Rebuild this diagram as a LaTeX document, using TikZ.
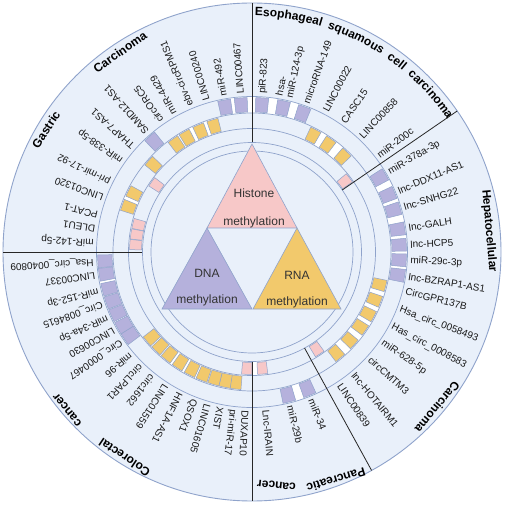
\documentclass[tikz,border=0pt]{standalone}
\usepackage{fontspec}
\setmainfont{Liberation Sans}
\usetikzlibrary{decorations.text}

\definecolor{bgblue}{RGB}{233,240,250}
\definecolor{rimline}{RGB}{143,163,203}
\definecolor{histpink}{RGB}{247,200,200}
\definecolor{rnayellow}{RGB}{242,201,108}
\definecolor{dnapurple}{RGB}{181,177,220}

% annular piece: style, inner r, outer r, from angle, to angle
\newcommand{\ringpiece}[5]{%
  \path[#1] (#4:#2) arc[start angle=#4, end angle=#5, radius=#2]
    -- (#5:#3) arc[start angle=#5, end angle=#4, radius=#3] -- cycle;}

\begin{document}
\begin{tikzpicture}[x=1pt, y=1pt,
  rim/.style={draw=rimline, line width=0.7pt},
  blk/.style={draw=rimline, line width=0.5pt},
  sect/.style={draw=black!85, line width=0.8pt},
  tri/.style={draw=rimline, line width=0.6pt},
  lbl/.style={anchor=west, inner sep=1pt, align=left, text=black!90,
    font=\fontsize{10}{10.5}\selectfont},
  ttl/.style={inner sep=0pt, text=black, font=\bfseries\fontsize{12}{13}\selectfont},
  tritxt/.style={inner sep=0pt, text=black!80, font=\fontsize{12}{13}\selectfont}]

\useasboundingbox (-252,-253) rectangle (253,252);

% background disc
\fill[bgblue] (0,0) circle[radius=249pt];
\draw[rim, line width=0.9pt] (0,0) circle[radius=249pt];

% white slots behind runs of blocks
\foreach \a/\b in {164.1/178.9, -94.9/-82.6}
  {\ringpiece{fill=white}{109.5pt}{123.5pt}{\a}{\b}}
\foreach \a/\b in {151.3/162.4, 104.3/127.4, 44.1/64.8, -52.6/-11.9, -142/-94.6}
  {\ringpiece{fill=white}{123.5pt}{139pt}{\a}{\b}}
\foreach \a/\b in {67.6/102.8, -11.3/32.6, -78.4/-65.6, -178.9/-143.2}
  {\ringpiece{fill=white}{139pt}{155.5pt}{\a}{\b}}

% rings
\foreach \r in {101,109.5,123.5,139,155.5}
  \draw[rim] (0,0) circle[radius=\r pt];

% histone blocks
\foreach \a in {176.5,171.5,166.5,145,37.3,-56.4,-85,-92.5}
  {\ringpiece{blk, fill=histpink}{110.5pt}{122.5pt}{\a-2.4}{\a+2.4}}
% RNA blocks
\foreach \a in {160,153.7,138.5,125,119.5,113,106.7,62.4,54.9,46.5,
    -14.3,-21.2,-28,-34.7,-42.1,-50.2,
    -97,-101.5,-106.3,-111.5,-117,-122.9,-128.8,-134.2,-139.6}
  {\ringpiece{blk, fill=rnayellow}{124.5pt}{138pt}{\a-2.4}{\a+2.4}}
% DNA blocks
\foreach \a in {131.5,100.4,94.2,86.2,78,70,30.2,22.7,16.5,8.8,2.7,-3.1,-8.9,
    -68,-76,-145.6,-150.4,-155.6,-160.7,-165.8,-171.5,-176.5}
  {\ringpiece{blk, fill=dnapurple}{140pt}{154.5pt}{\a-2.4}{\a+2.4}}

% sector borders
\foreach \a in {90,34.5,-61.3,-90,180}
  \draw[sect] (\a:109.5pt) -- (\a:249pt);

% triangles
\draw[tri, fill=histpink] (0,108) -- (45,24) -- (-45,24) -- cycle;
\draw[tri, fill=dnapurple] (-45,24) -- (0,-57) -- (-90,-57) -- cycle;
\draw[tri, fill=rnayellow] (45,24) -- (89,-57) -- (1,-57) -- cycle;
\node[tritxt] (histA) at (2,59) {Histone};
\node[tritxt] (histB) at (2,30) {methylation};
\node[tritxt] (dnaA) at (-45,-21) {DNA};
\node[tritxt] (dnaB) at (-45,-48) {methylation};
\node[tritxt] (rnaA) at (45,-23) {RNA};
\node[tritxt] (rnaB) at (45,-50) {methylation};

% gene labels
\foreach \a/\t [count=\i] in {176.5/miR-142-5p, 171.5/DLEU1, 166.5/PCAT-1,
    160/LINC01320, 153.7/pri-mir-17-92, 145/miR-338-5p, 138.5/THAP7-AS1,
    131.5/SAMD12-AS1, 125/circORC5, 119.5/miR-4429, 113/ebv-circRPMS1,
    106.7/LINC00240, 100.4/miR-492, 94.2/LINC00467,
    86.2/piR-823, 78/{hsa-\\miR-124-3p}, 70/microRNA-149, 62.4/LINC00022,
    54.9/CASC15, 46.5/LINC00858, 37.3/miR-200c,
    30.2/miR-378a-3p, 22.7/lnc-DDX11-AS1, 16.5/lnc-SNHG22, 8.8/lnc-GALH,
    2.7/lnc-HCP5, -3.1/miR-29c-3p, -8.9/lnc-BZRAP1-AS1, -14.3/CircGPR137B,
    -21.2/Hsa\_circ\_0058493, -28/Has\_circ\_0008583, -34.7/miR-628-5p,
    -42.1/circCMTM3, -50.2/lnc-HOTAIRM1, -56.4/LINC00839,
    -68/miR-34, -76/miR-29b, -85/Lnc-IRAIN,
    -92.5/DUXAP10, -97/pri-miR-17, -101.5/XIST, -106.3/LINC01605,
    -111.5/QSOX1, -117/HNF1A-AS1, -122.9/LINC01559, -128.8/circ1662,
    -134.2/circLPAR1, -139.6/miR-96, -145.6/Circ\_0000467, -150.4/LINC00630,
    -155.6/miR-34a-5p, -160.7/Circ\_0084615, -165.8/miR-152-3p,
    -171.5/LINC00337, -176.5/Hsa\_circ\_0040809}
  \node[lbl, rotate=\a] (gene\i) at (\a:157.5pt) {\t};

% cancer types
\path[decorate, decoration={text along path,
    text={|\bfseries\fontsize{12}{13}\selectfont|Esophageal squamous cell carcinoma},
    text align={fit to path stretching spaces}}]
  (89.3:236pt) arc[start angle=89.3, end angle=34.2, radius=236pt];
\node[ttl, rotate=57] (gastA) at (-206,122.5) {Gastric};
\node[ttl, rotate=35] (gastB) at (-132,200) {Carcinoma};
\node[ttl, rotate=-85] (hepA) at (237,21) {Hepatocellular};
\node[ttl, rotate=-130] (hepB) at (185.5,-155.5) {Carcinoma};
\node[ttl, rotate=-163] (pancA) at (84,-228) {Pancreatic};
\node[ttl, rotate=174] (pancB) at (24.5,-233) {cancer};
\node[ttl, rotate=146] (colA) at (-127.5,-205.5) {Colorectal};
\node[ttl, rotate=129] (colB) at (-184.5,-158) {cancer};

\end{tikzpicture}
\end{document}
